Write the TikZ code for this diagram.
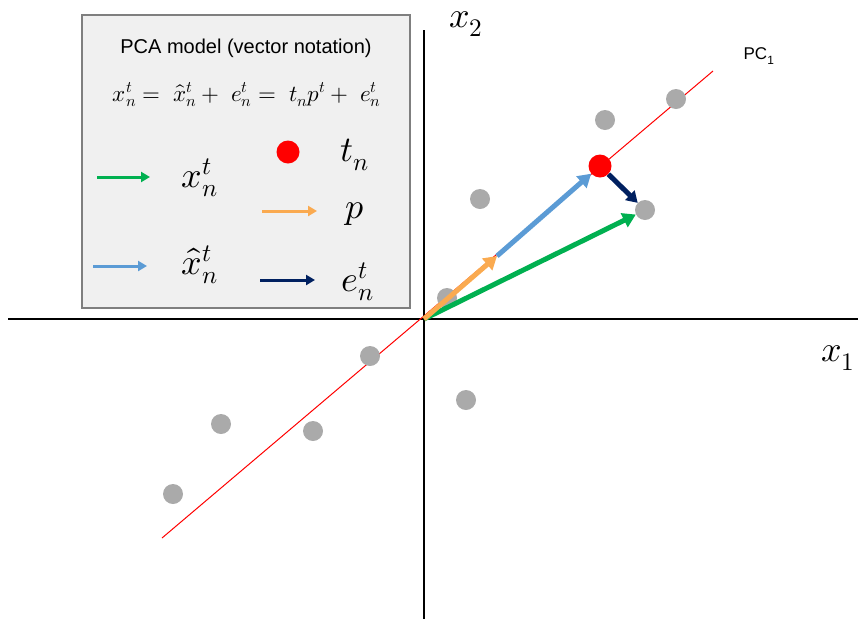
\documentclass[tikz,border=0pt]{standalone}
\usepackage{fontspec}
\usepackage{unicode-math}
\setmathfont{Latin Modern Math}
\newfontfamily\legendfont{Liberation Sans}
\usetikzlibrary{arrows.meta}

\definecolor{pcgreen}{HTML}{00B050}
\definecolor{pcblue}{HTML}{5B9BD5}
\definecolor{pcorange}{HTML}{FAAA50}
\definecolor{pcnavy}{HTML}{002060}
\definecolor{dotgray}{HTML}{AAAAAA}
\definecolor{boxfill}{HTML}{F0F0F0}
\definecolor{boxline}{HTML}{7F7F7F}

\tikzset{
  dot/.style={circle, fill=dotgray, inner sep=0pt, minimum size=20pt},
  scorepoint/.style={circle, fill=red, inner sep=0pt, minimum size=23pt},
  vec/.style={line width=5pt, -{Triangle[length=13pt,width=15pt]}},
  legarrow/.style={line width=3pt, -{Triangle[length=9pt,width=10pt]}},
  bigmath/.style={font=\fontsize{36}{42}\selectfont, inner sep=0pt},
}

\begin{document}
\begin{tikzpicture}[x=1pt, y=-1pt]
  \useasboundingbox (0,0) rectangle (858,619);

  % legend box
  \draw[boxline, fill=boxfill, line width=2pt] (82,15) rectangle (410,308);
  \node[font=\legendfont\fontsize{20}{24}\selectfont] (title) at (246,48) {PCA model (vector notation)};
  \node[font=\fontsize{23}{27}\selectfont] (eqn) at (247,95)
    {$x_n^t =\; \hat{x}_n^t +\; e_n^t =\; t_n p^t +\; e_n^t$};

  \draw[legarrow, pcgreen] (97,177) -- (150,177);
  \node[bigmath] (lx) at (200,178) {$x_n^t$};
  \draw[legarrow, pcblue] (93,266) -- (147,266);
  \node[bigmath] (lxhat) at (200,265) {$\hat{x}_n^t$};
  \node[scorepoint] (ldot) at (288,152) {};
  \node[bigmath] (ltn) at (355,155) {$t_n$};
  \draw[legarrow, pcorange] (262,211) -- (317,211);
  \node[bigmath] (lp) at (355,214) {$p$};
  \draw[legarrow, pcnavy] (260,280) -- (315,280);
  \node[bigmath] (le) at (358,282) {$e_n^t$};

  % axes
  \draw[line width=2pt] (8,319) -- (858,319);
  \draw[line width=2pt] (424,30) -- (424,619);
  \node[bigmath] (xone) at (838,358) {$x_1$};
  \node[bigmath] (xtwo) at (466,24) {$x_2$};

  % principal component
  \draw[red, line width=1pt] (162,538) -- (713,71);
  \node[font=\legendfont\fontsize{17}{20}\selectfont] (pc) at (759,56) {PC\textsubscript{1}};

  % observations
  \node[dot] (d1) at (676,99) {};
  \node[dot] (d2) at (605,120) {};
  \node[dot] (d3) at (645,210) {};
  \node[dot] (d4) at (480,199) {};
  \node[dot] (d5) at (447,298) {};
  \node[dot] (d6) at (370,356) {};
  \node[dot] (d7) at (313,431) {};
  \node[dot] (d8) at (221,424) {};
  \node[dot] (d9) at (173,494) {};
  \node[dot] (d10) at (466,400) {};

  % vectors
  \coordinate (O) at (424,319);
  \coordinate (pend) at (497,256);
  \node[scorepoint] (tn) at (600,166) {};
  \draw[vec, pcgreen] (O) -- (d3);
  \draw[vec, pcblue] (pend) -- (tn);
  \draw[vec, pcorange] (O) -- (pend);
  \draw[vec, pcnavy, -{Triangle[length=11pt,width=13pt]}] (tn) -- (d3);
\end{tikzpicture}
\end{document}
